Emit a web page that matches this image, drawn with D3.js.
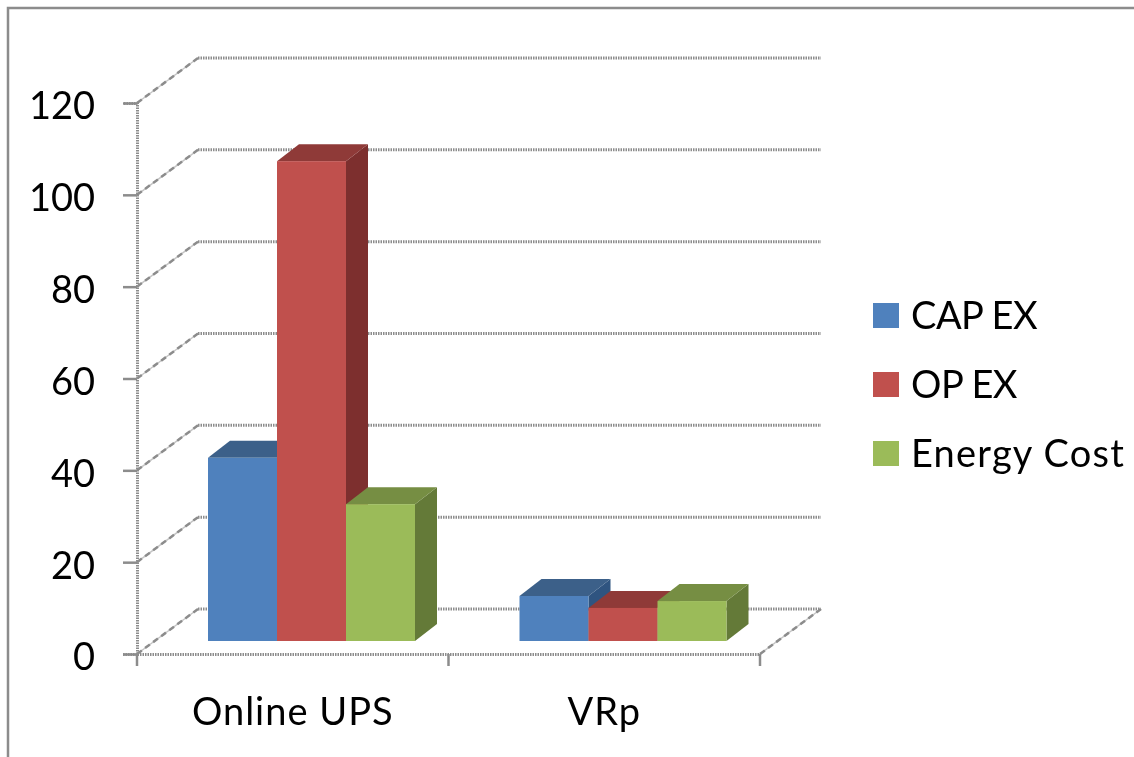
<!DOCTYPE html>
<html>
<head>
<meta charset="utf-8">
<script src="https://cdn.jsdelivr.net/npm/d3@7"></script>
<style>
  html, body { margin: 0; padding: 0; background: #fff; overflow: hidden; }
  svg { filter: blur(0.5px); }
  text { font-family: Lato, "Open Sans", sans-serif; fill: #000; }
</style>
</head>
<body>
<div id="chart"></div>
<script>
var categories = ["Online UPS", "VRp"];
var seriesNames = ["CAP EX", "OP EX", "Energy Cost"];
var capEx = [39.9, 9.8];
var opEx = [104.5, 7.2];
var energyCost = [29.8, 8.7];
var seriesValues = [capEx, opEx, energyCost];
var yTicks = [0, 20, 40, 60, 80, 100, 120];

var frontColors = ["#4f81bd", "#c0504d", "#9bbb59"];
var topColors = ["#3c6089", "#8f3a38", "#768e43"];
var sideColors = ["#2f5480", "#7d2f2e", "#647a38"];

var width = 1134;
var height = 757;

var svg = d3.select("#chart")
  .append("svg")
  .attr("width", width)
  .attr("height", height);

var y = d3.scaleLinear().domain([0, 120]).range([654, 103]);
var x0 = d3.scaleBand().domain(categories).range([137, 760]);
var x1 = d3.scaleBand().domain(seriesNames).range([71, 278]);

// offset of the back wall, and of the bars from the front of the floor
var wallX = 61, wallY = 45;
var barDepthX = 22, barDepthY = 17, floorGap = 13;

// frame
svg.append("path")
  .attr("d", "M8,757V8H1134")
  .attr("fill", "none")
  .attr("stroke", "#8c8c8c")
  .attr("stroke-width", 2.5);

// gridlines on the back wall and the diagonal side wall
var grid = svg.append("g");
grid.selectAll("line.back")
  .data(yTicks)
  .join("line")
  .attr("class", "back")
  .attr("x1", wallX + 137)
  .attr("x2", wallX + 760)
  .attr("y1", d => y(d) - wallY)
  .attr("y2", d => y(d) - wallY)
  .attr("stroke", "#8c8c8c")
  .attr("stroke-width", 3)
  .attr("stroke-dasharray", "1.5 1");

function diagonal(sel) {
  sel.attr("stroke", "#8c8c8c").attr("stroke-width", 2.5).attr("stroke-dasharray", "6 4");
}
grid.selectAll("line.under")
  .data(yTicks)
  .join("line")
  .attr("class", "under")
  .attr("x1", 137)
  .attr("x2", 137 + wallX)
  .attr("y1", d => y(d))
  .attr("y2", d => y(d) - wallY)
  .attr("stroke", "#c4c4c4")
  .attr("stroke-width", 1.5);
grid.selectAll("line.side")
  .data(yTicks)
  .join("line")
  .attr("class", "side")
  .attr("x1", 137)
  .attr("x2", 137 + wallX)
  .attr("y1", d => y(d))
  .attr("y2", d => y(d) - wallY)
  .call(diagonal);
// floor edge on the right
grid.append("line")
  .attr("x1", 760)
  .attr("x2", 760 + wallX)
  .attr("y1", y(0))
  .attr("y2", y(0) - wallY)
  .attr("stroke", "#c4c4c4")
  .attr("stroke-width", 1.5);
grid.append("line")
  .attr("x1", 760)
  .attr("x2", 760 + wallX)
  .attr("y1", y(0))
  .attr("y2", y(0) - wallY)
  .call(diagonal);

// bars
var w = x1.bandwidth();
categories.forEach(function (cat, c) {
  seriesNames.forEach(function (name, s) {
    var v = seriesValues[s][c];
    var left = x0(cat) + x1(name);
    var top = y(v) - floorGap;
    var base = y(0) - floorGap;
    var bar = svg.append("g");
    bar.append("polygon")
      .attr("points", [[left + w, top], [left + w + barDepthX, top - barDepthY],
        [left + w + barDepthX, base - barDepthY], [left + w, base]].join(" "))
      .attr("fill", sideColors[s]);
    bar.append("polygon")
      .attr("points", [[left, top], [left + barDepthX, top - barDepthY],
        [left + w + barDepthX, top - barDepthY], [left + w, top]].join(" "))
      .attr("fill", topColors[s]);
    bar.append("rect")
      .attr("x", left)
      .attr("y", top)
      .attr("width", w)
      .attr("height", base - top)
      .attr("fill", frontColors[s]);
  });
});

// y axis
var yAxis = svg.append("g")
  .attr("transform", "translate(137,0)")
  .call(d3.axisLeft(y).tickValues(yTicks).tickSize(14).tickPadding(28));
yAxis.select(".domain")
  .attr("stroke", "#8c8c8c")
  .attr("stroke-width", 3)
  .attr("stroke-dasharray", "1.5 1");
yAxis.selectAll(".tick line")
  .attr("stroke", "#8c8c8c")
  .attr("stroke-width", 2.5);
yAxis.selectAll("text")
  .attr("font-size", 38)
  .attr("dy", "0.42em")
  .style("font-family", "Lato, 'Open Sans', sans-serif");

// x axis
var xAxis = svg.append("g")
  .attr("transform", "translate(0," + y(0) + ")")
  .call(d3.axisBottom(x0).tickSize(0).tickPadding(44));
xAxis.select(".domain")
  .attr("stroke", "#8c8c8c")
  .attr("stroke-width", 3)
  .attr("stroke-dasharray", "1.5 1");
xAxis.selectAll("text")
  .attr("font-size", 38)
  .attr("letter-spacing", 1)
  .style("font-family", "Lato, 'Open Sans', sans-serif");
xAxis.selectAll("line.edge")
  .data(categories.concat(null))
  .join("line")
  .attr("class", "edge")
  .attr("x1", d => d ? x0(d) : x0.range()[1])
  .attr("x2", d => d ? x0(d) : x0.range()[1])
  .attr("y1", 0)
  .attr("y2", 12)
  .attr("stroke", "#8c8c8c")
  .attr("stroke-width", 2.5);

// legend
var legendY = d3.scalePoint().domain(seriesNames).range([316, 454]);
var legend = svg.append("g")
  .selectAll("g")
  .data(seriesNames)
  .join("g")
  .attr("transform", d => "translate(873," + legendY(d) + ")");
legend.append("rect")
  .attr("y", -13)
  .attr("width", 26)
  .attr("height", 25)
  .attr("fill", (d, i) => frontColors[i]);
legend.append("text")
  .attr("x", 38)
  .attr("y", 13)
  .attr("font-size", 38)
  .attr("letter-spacing", d => d === "Energy Cost" ? 1.2 : -0.5)
  .text(d => d);
</script>
</body>
</html>
